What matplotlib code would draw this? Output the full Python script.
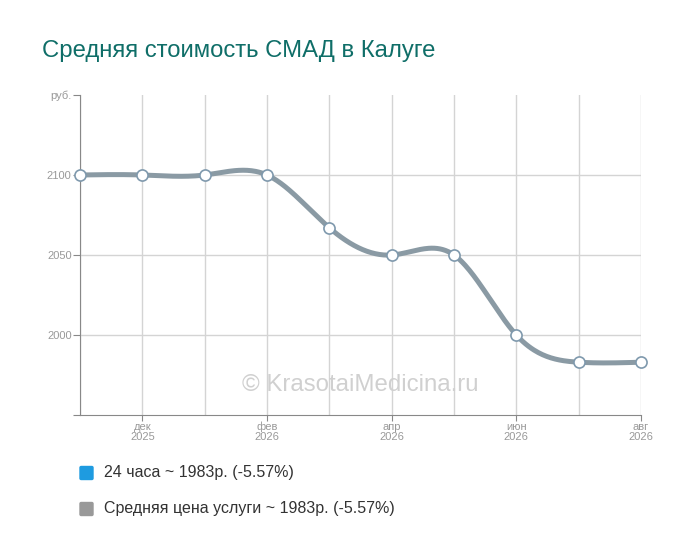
import numpy as np
import matplotlib
matplotlib.use("Agg")
import matplotlib.pyplot as plt
from matplotlib.patches import FancyBboxPatch

plt.rcParams['font.family'] = ['Liberation Sans', 'DejaVu Sans']

months = ["ноя\n2025", "дек\n2025", "янв\n2026", "фев\n2026", "мар\n2026",
          "апр\n2026", "май\n2026", "июн\n2026", "июл\n2026", "авг\n2026"]
price_24h = [2100, 2100, 2100, 2100, 2067, 2050, 2050, 2000, 1983, 1983]
price_avg = [2100, 2100, 2100, 2100, 2067, 2050, 2050, 2000, 1983, 1983]
legend_labels = ["24 часа ~ 1983р. (-5.57%)",
                 "Средняя цена услуги ~ 1983р. (-5.57%)"]


def natural_spline(x, y, n=400):
    # natural cubic spline, just for the smooth look of the line
    x = np.asarray(x, float)
    y = np.asarray(y, float)
    k = len(x)
    h = np.diff(x)
    A = np.zeros((k, k))
    b = np.zeros(k)
    A[0, 0] = A[-1, -1] = 1
    for i in range(1, k - 1):
        A[i, i - 1] = h[i - 1]
        A[i, i] = 2 * (h[i - 1] + h[i])
        A[i, i + 1] = h[i]
        b[i] = 3 * ((y[i + 1] - y[i]) / h[i] - (y[i] - y[i - 1]) / h[i - 1])
    c = np.linalg.solve(A, b)
    xs = np.linspace(x[0], x[-1], n)
    idx = np.clip(np.searchsorted(x, xs) - 1, 0, k - 2)
    dx = xs - x[idx]
    bb = (y[idx + 1] - y[idx]) / h[idx] - h[idx] * (2 * c[idx] + c[idx + 1]) / 3
    d = (c[idx + 1] - c[idx]) / (3 * h[idx])
    ys = y[idx] + bb * dx + c[idx] * dx ** 2 + d * dx ** 3
    return xs, ys


fig = plt.figure(figsize=(7, 5.58), dpi=100)
ax = fig.add_axes([80 / 700, 143 / 558, 561 / 700, 320 / 558])

x = np.arange(len(months))
xs, ys = natural_spline(x, price_24h)
ax.plot(xs, ys, color="#1e9be0", lw=2, zorder=3)
xs, ys = natural_spline(x, price_avg)
ax.plot(xs, ys, color="#8a9aa4", lw=3.6, zorder=4, solid_capstyle="round")
ax.plot(x, price_avg, "o", ms=8, mfc="white", mec="#7f99ad", mew=1.2,
        zorder=5, clip_on=False)

ax.set_xlim(0, len(months) - 1)
ax.set_ylim(1950, 2150)
ax.set_xticks(x)
ax.set_xticklabels([m if i % 2 == 1 else "" for i, m in enumerate(months)])
ax.set_yticks([1950, 2000, 2050, 2100, 2150])
ax.set_yticklabels(["", "2000", "2050", "2100", "руб."])
ax.grid(True, color="#d4d4d4", lw=1)
ax.set_axisbelow(True)

for s in ["top", "right"]:
    ax.spines[s].set_visible(False)
for s in ["left", "bottom"]:
    ax.spines[s].set_color("#888888")
ax.tick_params(axis="y", colors="#888888", labelcolor="#999999", labelsize=8,
               length=5, pad=1)
ax.tick_params(axis="x", colors="#888888", labelcolor="#999999", labelsize=8,
               length=4, pad=1)
for t, tl in zip(ax.xaxis.get_major_ticks(), range(len(months))):
    if tl % 2 == 0:
        t.tick1line.set_visible(False)
ax.yaxis.get_gridlines()[-1].set_visible(False)
ax.yaxis.get_gridlines()[0].set_visible(False)
for lbl in ax.get_xticklabels():
    lbl.set_linespacing(1.0)

ax.text(0.5, 0.094, "© KrasotaiMedicina.ru", transform=ax.transAxes,
        ha="center", va="center", fontsize=17.3, color="#d0d0d0", zorder=1)

fig.text(42 / 700, 1 - 51 / 558, "Средняя стоимость СМАД в Калуге",
         fontsize=17.2, color="#0f6e68", va="center", ha="left")

colors = ["#1e9be0", "#999999"]
for i, (lab, col) in enumerate(zip(legend_labels, colors)):
    yc = 1 - (473 + i * 36) / 558
    fig.patches.append(FancyBboxPatch((80 / 700, yc - 6.5 / 558), 13 / 700, 13 / 558,
                                      boxstyle="round,pad=0,rounding_size=0.002",
                                      transform=fig.transFigure, color=col))
    fig.text(104 / 700, yc, lab, fontsize=11.5, color="#333333", va="center", ha="left")

fig.savefig("out.png", dpi=100)
